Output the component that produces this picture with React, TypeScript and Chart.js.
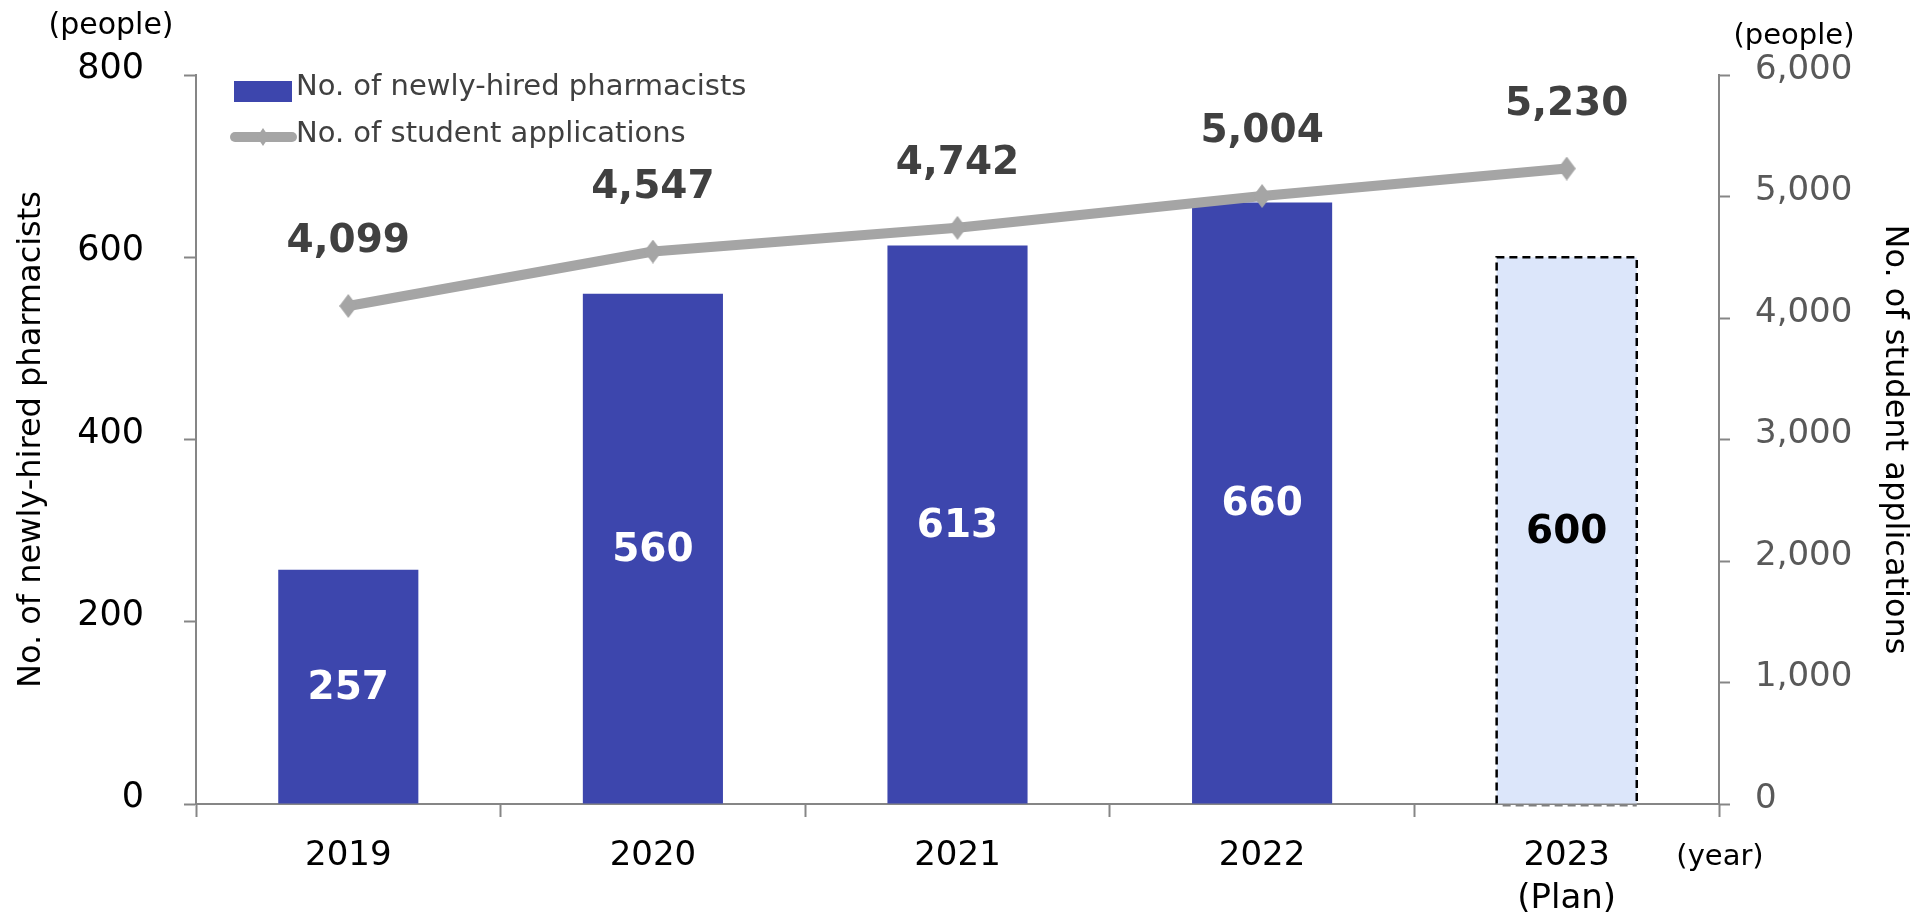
import React, { useEffect, useRef } from 'react';
import { Chart, registerables } from 'chart.js';

Chart.register(...registerables);

// ---- data ----
const categories: (string | string[])[] = ['2019', '2020', '2021', '2022', ['2023', '(Plan)']];
const hiredPharmacists = [257, 560, 613, 660, 600];
const studentApplications = [4099, 4547, 4742, 5004, 5230];
const planFlags = [false, false, false, false, true];
const leftAxisRange = [0, 800, 200]; // min, max, step
const rightAxisRange = [0, 6000, 1000];
const seriesNames = ['No. of newly-hired pharmacists', 'No. of student applications'];
const leftAxisTitle = 'No. of newly-hired pharmacists';
const rightAxisTitle = 'No. of student applications';
const unitLabel = '(people)';
const yearLabel = '(year)';

const FONT = "'DejaVu Sans', Verdana, sans-serif";
const BAR_COLOR = '#3D46AD';
const PLAN_COLOR = '#DCE6FA';
const LINE_COLOR = '#A5A5A5';
const AXIS_COLOR = '#868686';

const fmt = (v: number) => v.toLocaleString('en-US');

function makeDiamond(w: number, h: number): HTMLCanvasElement {
  const c = document.createElement('canvas');
  c.width = w;
  c.height = h;
  const g = c.getContext('2d')!;
  g.fillStyle = LINE_COLOR;
  g.beginPath();
  g.moveTo(w / 2, 0);
  g.lineTo(w, h / 2);
  g.lineTo(w / 2, h);
  g.lineTo(0, h / 2);
  g.closePath();
  g.fill();
  return c;
}

const decorPlugin = {
  id: 'decor',
  afterDatasetsDraw(chart: any) {
    const ctx = chart.ctx as CanvasRenderingContext2D;
    const barMeta = chart.getDatasetMeta(0);
    const lineMeta = chart.getDatasetMeta(1);
    ctx.save();
    // dashed border for planned bar(s)
    barMeta.data.forEach((bar: any, i: number) => {
      if (!planFlags[i]) return;
      const { x, y, base, width } = bar.getProps(['x', 'y', 'base', 'width'], true);
      ctx.setLineDash([8, 5]);
      ctx.lineWidth = 2.5;
      ctx.strokeStyle = '#000';
      ctx.beginPath();
      ctx.moveTo(x - width / 2, base);
      ctx.lineTo(x - width / 2, y);
      ctx.lineTo(x + width / 2, y);
      ctx.lineTo(x + width / 2, base);
      ctx.stroke();
      ctx.strokeStyle = '#808080';
      ctx.lineWidth = 2;
      ctx.beginPath();
      ctx.moveTo(x - width / 2 + 6, base + 2);
      ctx.lineTo(x + width / 2, base + 2);
      ctx.stroke();
      ctx.setLineDash([]);
    });
    // bar value labels
    ctx.font = `bold 39px ${FONT}`;
    ctx.textAlign = 'center';
    ctx.textBaseline = 'middle';
    barMeta.data.forEach((bar: any, i: number) => {
      const { y, base, x } = bar.getProps(['x', 'y', 'base'], true);
      ctx.fillStyle = planFlags[i] ? '#000' : '#fff';
      ctx.fillText(String(hiredPharmacists[i]), x, (y + base) / 2 + 2);
    });
    // line value labels
    ctx.fillStyle = '#404040';
    lineMeta.data.forEach((pt: any, i: number) => {
      ctx.fillText(fmt(studentApplications[i]), pt.x, pt.y - 64);
    });
    ctx.restore();
  },
  afterDraw(chart: any) {
    const ctx = chart.ctx as CanvasRenderingContext2D;
    const area = chart.chartArea;
    ctx.save();
    // legend
    const lx = area.left + 38;
    ctx.fillStyle = BAR_COLOR;
    ctx.fillRect(lx, area.top + 6, 58, 21);
    ctx.strokeStyle = LINE_COLOR;
    ctx.lineWidth = 10;
    ctx.lineCap = 'round';
    ctx.beginPath();
    ctx.moveTo(lx + 1, area.top + 62);
    ctx.lineTo(lx + 58, area.top + 62);
    ctx.stroke();
    ctx.fillStyle = LINE_COLOR;
    ctx.beginPath();
    const dx = lx + 29, dy = area.top + 62;
    ctx.moveTo(dx, dy - 9);
    ctx.lineTo(dx + 6, dy);
    ctx.lineTo(dx, dy + 9);
    ctx.lineTo(dx - 6, dy);
    ctx.closePath();
    ctx.fill();
    ctx.font = `29px ${FONT}`;
    ctx.fillStyle = '#404040';
    ctx.textAlign = 'left';
    ctx.textBaseline = 'middle';
    ctx.fillText(seriesNames[0], lx + 62, area.top + 12);
    ctx.fillText(seriesNames[1], lx + 62, area.top + 59);
    // unit labels
    ctx.fillStyle = '#000';
    ctx.textAlign = 'center';
    ctx.font = `30px ${FONT}`;
    ctx.fillText(unitLabel, area.left - 85, area.top - 49);
    ctx.font = `29px ${FONT}`;
    ctx.fillText(unitLabel, area.right + 75, area.top - 39);
    ctx.fillText(yearLabel, area.right + 1, area.bottom + 53);
    ctx.restore();
  },
};

export default function App() {
  const ref = useRef<HTMLCanvasElement | null>(null);
  useEffect(() => {
    document.body.style.margin = '0';
    document.body.style.overflow = 'hidden';
    const canvas = ref.current!;
    const diamond = makeDiamond(18, 24);
    const chart = new Chart(canvas, {
      type: 'bar',
      data: {
        labels: categories as any,
        datasets: [
          {
            type: 'bar',
            label: seriesNames[0],
            data: hiredPharmacists,
            yAxisID: 'y',
            backgroundColor: planFlags.map((p) => (p ? PLAN_COLOR : BAR_COLOR)),
            borderWidth: 0,
            categoryPercentage: 1,
            barPercentage: 0.46,
            order: 2,
          },
          {
            type: 'line',
            label: seriesNames[1],
            data: studentApplications,
            yAxisID: 'y1',
            borderColor: LINE_COLOR,
            backgroundColor: LINE_COLOR,
            borderWidth: 10,
            borderJoinStyle: 'round',
            pointStyle: diamond,
            pointRadius: 12,
            pointBorderWidth: 0,
            pointBackgroundColor: LINE_COLOR,
            tension: 0,
            order: 1,
          } as any,
        ],
      },
      options: {
        responsive: false,
        animation: false,
        layout: { padding: { top: 75, left: 0, right: 0, bottom: 0 } },
        plugins: { legend: { display: false }, tooltip: { enabled: false } },
        scales: {
          x: {
            grid: {
              offset: true,
              drawOnChartArea: false,
              drawTicks: true,
              tickLength: 13,
              tickColor: AXIS_COLOR,
              tickWidth: 2,
            },
            border: { display: true, color: AXIS_COLOR, width: 2 },
            ticks: {
              color: '#000',
              font: { family: FONT, size: 34, lineHeight: 1.25 },
              padding: 18,
              maxRotation: 0,
              autoSkip: false,
            },
            afterFit: (s: any) => {
              s.height = 112;
            },
          },
          y: {
            position: 'left',
            min: leftAxisRange[0],
            max: leftAxisRange[1],
            grid: {
              drawOnChartArea: false,
              drawTicks: true,
              tickLength: 12,
              tickColor: AXIS_COLOR,
              tickWidth: 2,
            },
            border: { display: true, color: AXIS_COLOR, width: 2 },
            ticks: {
              stepSize: leftAxisRange[2],
              color: '#000',
              font: { family: FONT, size: 35 },
              padding: 40,
              labelOffset: -6,
            },
            title: {
              display: true,
              text: leftAxisTitle,
              color: '#000',
              font: { family: FONT, size: 32 },
              padding: { top: 12, bottom: 0 },
            },
            afterFit: (s: any) => {
              s.width = 196;
            },
          },
          y1: {
            position: 'right',
            min: rightAxisRange[0],
            max: rightAxisRange[1],
            grid: {
              drawOnChartArea: false,
              drawTicks: true,
              tickLength: 11,
              tickColor: AXIS_COLOR,
              tickWidth: 2,
            },
            border: { display: true, color: AXIS_COLOR, width: 2 },
            ticks: {
              stepSize: rightAxisRange[2],
              color: '#595959',
              font: { family: FONT, size: 34 },
              padding: 25,
              labelOffset: -5,
              callback: (v: any) => fmt(Number(v)),
            },
            title: {
              display: true,
              text: rightAxisTitle,
              color: '#000',
              font: { family: FONT, size: 32 },
              padding: { top: 9, bottom: 0 },
            },
            afterFit: (s: any) => {
              s.width = 204;
            },
          },
        },
      },
      plugins: [decorPlugin],
    });
    return () => chart.destroy();
  }, []);
  return (
    <div style={{ width: 1923, height: 916, position: 'relative' }}>
      <canvas ref={ref} width={1923} height={916} style={{ display: 'block' }} />
    </div>
  );
}
